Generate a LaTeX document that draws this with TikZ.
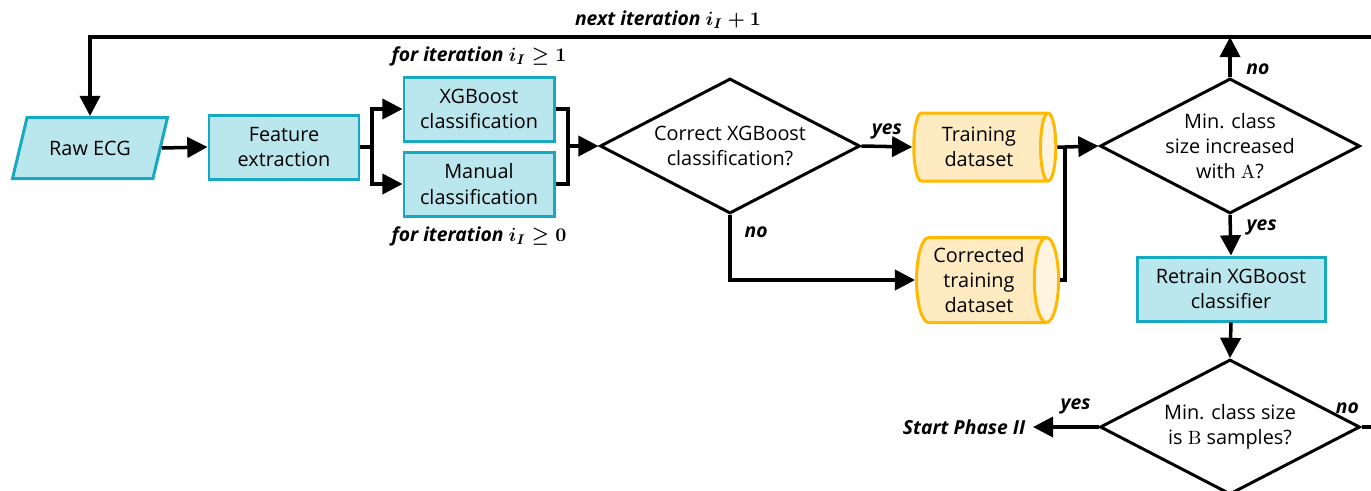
\documentclass[tikz,border=0pt]{standalone}
\usepackage{amsmath}
\usepackage{amssymb}
\usepackage[no-math]{fontspec}
\setmainfont{Open Sans}
\usepackage{tikz}
\usetikzlibrary{arrows.meta,shapes.geometric,calc,positioning}
\definecolor{boxfill}{HTML}{BAE6ED}
\definecolor{boxline}{HTML}{17A8C2}
\definecolor{dbfill}{HTML}{FFEBC2}
\definecolor{dbend}{HTML}{FFF4DF}
\definecolor{dbline}{HTML}{FFB900}

\begin{document}
\begin{tikzpicture}[->,>={Triangle[length=11.5pt,width=11.5pt]},line width=2pt,
  every node/.style={font=\fontsize{11.3}{14.4}\selectfont,align=center}]
\tikzstyle{process}=[rectangle,draw=boxline,fill=boxfill,line width=1.7pt,minimum width=3cm,minimum height=1.28cm,inner sep=2pt]
\tikzstyle{inout}=[trapezium,trapezium left angle=61,trapezium right angle=119,trapezium stretches body,draw=boxline,fill=boxfill,line width=1.7pt,minimum width=3.1cm,minimum height=1.22cm]
\tikzstyle{store}=[cylinder,shape aspect=0.35,cylinder uses custom fill,cylinder body fill=dbfill,cylinder end fill=dbend,draw=dbline,line width=1.7pt,minimum width=1.36cm,minimum height=2.84cm,inner sep=1pt]
\tikzstyle{decision}=[diamond,draw=black,fill=white,line width=1.7pt,aspect=1.93,minimum width=5.2cm,minimum height=2.7cm,inner sep=-2pt]
\tikzstyle{lbl}=[font=\fontsize{11}{13}\selectfont\bfseries\itshape\boldmath]

\clip (0,0) rectangle (27.42,-9.8);

\node[inout] (rawecg) at (1.8,-2.96) {Raw ECG};
\node[process] (feature) at (5.68,-2.94) {Feature\\extraction};
\node[process] (xgbclass) at (9.58,-2.18) {XGBoost\\classification};
\node[process] (manclass) at (9.58,-3.68) {Manual\\classification};
\node[decision] (checkxgb) at (14.6,-2.92) {Correct XGBoost\\classification?};
\node[store] (train) at (19.58,-2.94) {Training\\dataset};
\node[store,minimum width=1.7cm] (corrtrain) at (19.58,-5.6) {Corrected\\training\\dataset};
\node[decision] (checkA) at (24.6,-2.92) {Min. class\\size increased\\with $\mathrm{A}$?};
\node[process,minimum width=3.76cm] (retrain) at (24.62,-5.78) {Retrain XGBoost\\classifier};
\node[decision] (checkB) at (24.6,-8.54) {Min. class size\\is $\mathrm{B}$ samples?};
\node[lbl,anchor=east] (phase2) at (20.66,-8.54) {Start Phase II};

\node[lbl,above=1pt of xgbclass] (iter1) {for iteration $i_I \geq 1$};
\node[lbl,below=1pt of manclass] (iter0) {for iteration $i_I \geq 0$};
\node[lbl] (nextiter) at (13.36,-0.4) {next iteration $i_I + 1$};

\coordinate (split) at (7.44,-2.94);
\coordinate (merge) at (11.36,-2.92);
\coordinate (join) at (21.3,-2.94);
\coordinate (loopR) at (27.42,-0.74);
\coordinate (loopB) at (27.42,-8.54);

\draw (rawecg.east) -- (feature.west);
\draw[-] (feature.east) -- (split);
\draw (split) |- (xgbclass.west);
\draw (split) |- (manclass.west);
\draw[-] (xgbclass.east) -| (merge);
\draw[-] (manclass.east) -| (merge);
\draw (merge) -- (checkxgb.west);
\draw (checkxgb.east) -- node[lbl,above] {yes} (train.west);
\draw (checkxgb.south) |- node[lbl,pos=0.13,right=4pt] {no} (corrtrain.west);
\draw[-] (train.east) -- (join);
\draw[-] (corrtrain.east) -| (join);
\draw (join) -- (checkA.west);
\draw (checkA.north) -- node[lbl,right=5pt,pos=0.2] {no} (checkA.north |- loopR);
\draw (loopR) -| (rawecg.north);
\draw (checkA.south) -- node[lbl,right=5pt,pos=0.3] {yes} (retrain.north);
\draw (retrain.south) -- (checkB.north);
\draw (checkB.west) -- node[lbl,above=3pt,pos=0.35] {yes} (phase2.east);
\draw[-] (checkB.east) -- node[lbl,above=3pt,pos=0,xshift=-8pt] {no} (loopB);
\end{tikzpicture}
\end{document}
